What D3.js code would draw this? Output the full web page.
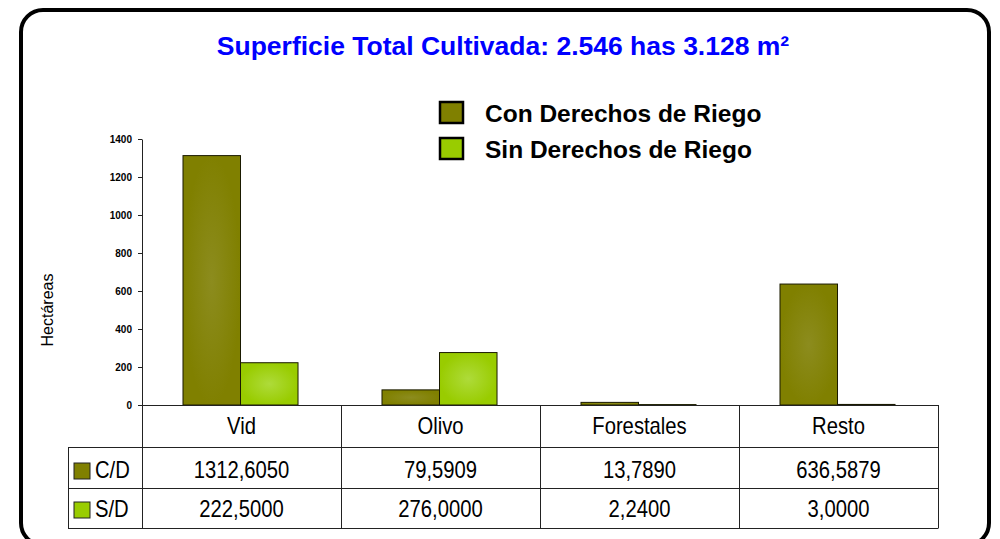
<!DOCTYPE html>
<html>
<head>
<meta charset="utf-8">
<script src="https://cdn.jsdelivr.net/npm/d3@7"></script>
<style>
  body { margin: 0; background: #fff; }
  text { font-family: "Liberation Sans", Arial, sans-serif; }
</style>
</head>
<body>
<div id="main"></div>
<script>
const categories = ["Vid", "Olivo", "Forestales", "Resto"]
const conDerechos = [1312.6050, 79.5909, 13.7890, 636.5879]
const sinDerechos = [222.5000, 276.0000, 2.2400, 3.0000]
const seriesNames = ["Con Derechos de Riego", "Sin Derechos de Riego"]
const rowLabels = ["C/D", "S/D"]
const yTicks = [0, 200, 400, 600, 800, 1000, 1200, 1400]
const colors = ["#808000", "#99cc00"]
const lightColors = ["#8c8c1e", "#aedb3a"]

const series = [conDerechos, sinDerechos]
const fmt = d3.formatLocale({decimal: ",", thousands: ".", grouping: [3]}).format(".4f")

const svg = d3.select('div#main').append('svg')
  .attr('width', 1000)
  .attr('height', 539)

// rounded frame
svg.append('rect')
  .attr('x', 21).attr('y', 10)
  .attr('width', 968).attr('height', 535)
  .attr('rx', 22)
  .attr('fill', 'none')
  .attr('stroke', '#000')
  .attr('stroke-width', 4)

const defs = svg.append('defs')
colors.forEach((c, i) => {
  let g = defs.append('radialGradient').attr('id', `grad${i}`)
  g.append('stop').attr('offset', '0%').attr('stop-color', lightColors[i])
  g.append('stop').attr('offset', '100%').attr('stop-color', c)
})

svg.append('text')
  .attr('x', 503).attr('y', 55)
  .attr('text-anchor', 'middle')
  .attr('font-size', '26.5px')
  .attr('font-weight', 'bold')
  .attr('fill', '#0000ff')
  .text('Superficie Total Cultivada: 2.546 has 3.128 m²')

const x0 = 142, x1 = 938, yBase = 405
const x = d3.scaleBand().domain(categories).range([x0, x1])
const bw = x.bandwidth()
const xs = d3.scaleBand().domain([0, 1]).range([bw * 0.206, bw * 0.784])
const y = d3.scaleLinear().domain([0, 1400]).range([yBase, 139])

// y axis
const yAxis = svg.append('g')
  .attr('transform', `translate(${x0},0)`)
  .call(d3.axisLeft(y).tickValues(yTicks).tickFormat(d3.format('d')).tickSize(4).tickSizeOuter(0).tickPadding(6))
yAxis.select('.domain').attr('stroke', '#222')
yAxis.selectAll('line').attr('stroke', '#222')
yAxis.selectAll('text')
  .attr('font-family', '"Liberation Sans", Arial, sans-serif')
  .attr('font-size', '10px')
  .attr('font-weight', 'bold')
  .attr('fill', '#000')

svg.append('text')
  .attr('transform', 'translate(53,310) rotate(-90)')
  .attr('text-anchor', 'middle')
  .attr('font-size', '16px')
  .text('Hectáreas')

// bars
series.forEach((vals, s) => {
  svg.selectAll(`rect.bar${s}`)
    .data(vals)
    .enter()
    .append('rect')
      .attr('class', `bar${s}`)
      .attr('x', (d, i) => x(categories[i]) + xs(s))
      .attr('y', (d) => y(d))
      .attr('width', xs.bandwidth())
      .attr('height', (d) => yBase - y(d))
      .attr('fill', `url(#grad${s})`)
      .attr('stroke', '#1a1a00')
      .attr('stroke-width', 1)
})

// legend
seriesNames.forEach((name, i) => {
  let ly = 102 + i * 36
  svg.append('rect')
    .attr('x', 440).attr('y', ly)
    .attr('width', 23).attr('height', 21)
    .attr('fill', colors[i])
    .attr('stroke', '#000')
    .attr('stroke-width', 2.5)
  svg.append('text')
    .attr('x', 485).attr('y', ly + 20)
    .attr('font-size', '24.5px')
    .attr('font-weight', 'bold')
    .text(name)
})

// data table
const tLeft = 68
const rows = [405, 447, 488, 528]
const sx = 0.88  // table font looks narrow
const tbl = svg.append('g').attr('stroke', '#222').attr('stroke-width', 1)
tbl.append('line').attr('x1', x0).attr('x2', x1).attr('y1', rows[0] + 0.5).attr('y2', rows[0] + 0.5)
rows.slice(1).forEach(r => {
  tbl.append('line').attr('x1', tLeft).attr('x2', x1).attr('y1', r + 0.5).attr('y2', r + 0.5)
})
tbl.append('line').attr('x1', tLeft + 0.5).attr('x2', tLeft + 0.5).attr('y1', rows[1]).attr('y2', rows[3] + 0.5)
categories.forEach(c => {
  tbl.append('line').attr('x1', x(c) + 0.5).attr('x2', x(c) + 0.5).attr('y1', rows[0]).attr('y2', rows[3] + 0.5)
})
tbl.append('line').attr('x1', x1 + 0.5).attr('x2', x1 + 0.5).attr('y1', rows[0]).attr('y2', rows[3] + 0.5)

svg.selectAll('text.cat')
  .data(categories)
  .enter()
  .append('text')
    .attr('class', 'cat')
    .attr('transform', (d) => `translate(${x(d) + bw / 2},434) scale(${sx},1)`)
    .attr('text-anchor', 'middle')
    .attr('font-size', '23px')
    .text((d) => d)

series.forEach((vals, s) => {
  let baseY = [478, 517][s]
  svg.selectAll(`text.val${s}`)
    .data(vals)
    .enter()
    .append('text')
      .attr('class', `val${s}`)
      .attr('transform', (d, i) => `translate(${x(categories[i]) + bw / 2},${baseY}) scale(${sx},1)`)
      .attr('text-anchor', 'middle')
      .attr('font-size', '23px')
      .text((d) => fmt(d))

  svg.append('rect')
    .attr('x', 74).attr('y', baseY - 15)
    .attr('width', 16).attr('height', 16)
    .attr('fill', colors[s])
    .attr('stroke', '#222')
    .attr('stroke-width', 1)
  svg.append('text')
    .attr('transform', `translate(95,${baseY}) scale(${sx},1)`)
    .attr('font-size', '23px')
    .text(rowLabels[s])
})
</script>
</body>
</html>
